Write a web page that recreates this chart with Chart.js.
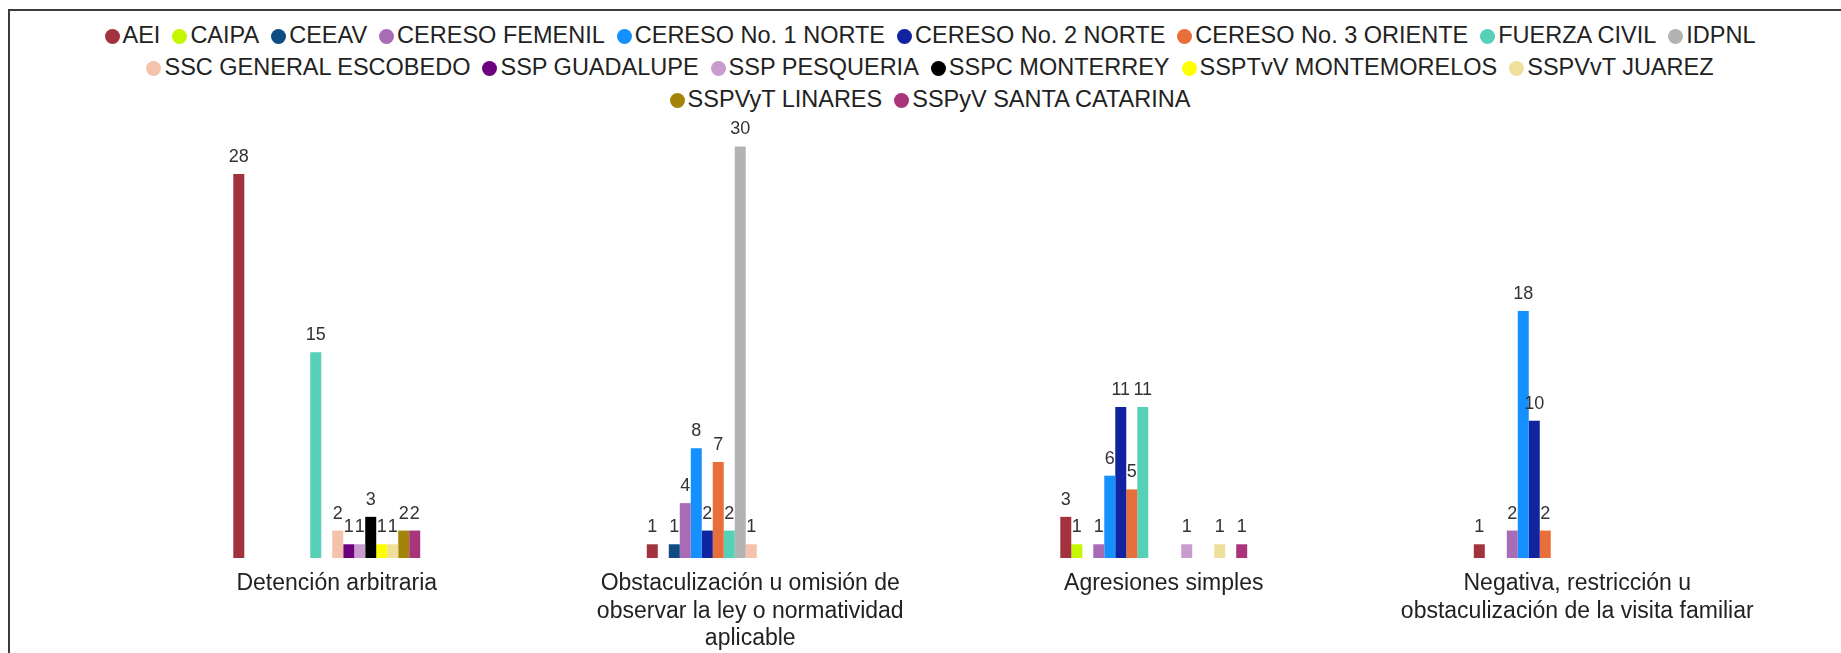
<!DOCTYPE html>
<html lang="es">
<head>
<meta charset="utf-8">
<title>Quejas por autoridad</title>
<script src="https://cdn.jsdelivr.net/npm/chart.js@4.4.1/dist/chart.umd.min.js"></script>
<style>
  html, body { margin: 0; padding: 0; background: #fff; overflow: hidden; }
  #wrap { position: relative; width: 1841px; height: 653px; font-family: "Liberation Sans", Arial, sans-serif; }
  #frame { position: absolute; left: 8px; top: 9px; right: -10px; bottom: -10px;
           border-top: 2px solid #3c3c3c; border-left: 2px solid #3c3c3c; }
  #grafica { position: absolute; left: 0; top: 0; }
  #leyenda { position: absolute; left: 80px; top: 19px; width: 1700px; text-align: center;
             font-size: 23.5px; line-height: 32px; color: #222; }
  #leyenda span.item { display: inline-block; white-space: nowrap; margin: 0 6px; }
  #leyenda span.dot { display: inline-block; width: 15px; height: 15px; border-radius: 50%;
                      margin-right: 3px; vertical-align: -1px; }
</style>
</head>
<body>
<div id="wrap">
  <div id="frame"></div>
  <div id="leyenda"></div>
  <canvas id="grafica" width="1841" height="653"></canvas>
</div>
<script>
const categorias = [
  "Detención arbitraria",
  ["Obstaculización u omisión de", "observar la ley o normatividad", "aplicable"],
  "Agresiones simples",
  ["Negativa, restricción u", "obstaculización de la visita familiar"]
];

const autoridades = [
  "AEI", "CAIPA", "CEEAV", "CERESO FEMENIL", "CERESO No. 1 NORTE", "CERESO No. 2 NORTE",
  "CERESO No. 3 ORIENTE", "FUERZA CIVIL", "IDPNL", "SSC GENERAL ESCOBEDO", "SSP GUADALUPE",
  "SSP PESQUERIA", "SSPC MONTERREY", "SSPTvV MONTEMORELOS", "SSPVvT JUAREZ",
  "SSPVyT LINARES", "SSPyV SANTA CATARINA"
];

const colores = [
  "#a2333e", "#c4f700", "#0f4c81", "#a86bb6", "#1590ff", "#11239e",
  "#e86f3a", "#56d0b6", "#b3b3b3", "#f5c2ab", "#6c007f",
  "#c99bcf", "#000000", "#ffff00", "#f0df9b",
  "#a3830a", "#a9347a"
];

// un arreglo por autoridad, en el orden de las categorías
const aei         = [28, 1, 3, 1];
const caipa       = [0, 0, 1, 0];
const ceeav       = [0, 1, 0, 0];
const cerFemenil  = [0, 4, 1, 2];
const cer1Norte   = [0, 8, 6, 18];
const cer2Norte   = [0, 2, 11, 10];
const cer3Oriente = [0, 7, 5, 2];
const fuerzaCivil = [15, 2, 11, 0];
const idpnl       = [0, 30, 0, 0];
const sscEscobedo = [2, 1, 0, 0];
const sspGuadalupe = [1, 0, 0, 0];
const sspPesqueria = [1, 0, 1, 0];
const sspcMonterrey = [3, 0, 0, 0];
const ssptvvMontemorelos = [1, 0, 0, 0];
const sspvvtJuarez = [1, 0, 1, 0];
const sspvytLinares = [2, 0, 0, 0];
const sspyvSantaCatarina = [2, 0, 1, 0];

const valores = [
  aei, caipa, ceeav, cerFemenil, cer1Norte, cer2Norte, cer3Oriente, fuerzaCivil, idpnl,
  sscEscobedo, sspGuadalupe, sspPesqueria, sspcMonterrey, ssptvvMontemorelos,
  sspvvtJuarez, sspvytLinares, sspyvSantaCatarina
];

const datasets = autoridades.map((nombre, i) => ({
  label: nombre,
  data: valores[i],
  backgroundColor: colores[i],
  borderWidth: 0,
  categoryPercentage: 0.452,
  barPercentage: 1.0
}));

// etiquetas con el valor encima de cada barra
const etiquetasValor = {
  id: "etiquetasValor",
  afterDatasetsDraw(chart) {
    const ctx = chart.ctx;
    ctx.save();
    ctx.font = "18px 'Liberation Sans', Arial, sans-serif";
    ctx.fillStyle = "#333";
    ctx.textAlign = "center";
    ctx.textBaseline = "alphabetic";
    chart.data.datasets.forEach((ds, i) => {
      chart.getDatasetMeta(i).data.forEach((bar, j) => {
        const v = ds.data[j];
        if (!v) return;
        ctx.fillText(String(v), bar.x, bar.y - 12);
      });
    });
    ctx.restore();
  }
};

const chart = new Chart(document.getElementById("grafica"), {
  type: "bar",
  data: { labels: categorias, datasets: datasets },
  options: {
    responsive: false,
    animation: false,
    devicePixelRatio: 1,
    layout: { padding: { left: 120, right: 67, top: 119, bottom: 0 } },
    plugins: {
      legend: { display: false },
      tooltip: { enabled: false }
    },
    scales: {
      x: {
        grid: { display: false, drawTicks: false },
        border: { display: false },
        ticks: {
          color: "#222",
          padding: 12,
          labelOffset: 10,
          maxRotation: 0,
          autoSkip: false,
          font: { family: "'Liberation Sans', Arial, sans-serif", size: 23 }
        },
        afterFit(scale) { scale.height = 95; }
      },
      y: {
        display: false,
        min: 0,
        max: 32
      }
    }
  },
  plugins: [etiquetasValor]
});

// leyenda en HTML a partir de los datasets del gráfico
const leyenda = document.getElementById("leyenda");
chart.data.datasets.forEach(ds => {
  const item = document.createElement("span");
  item.className = "item";
  const dot = document.createElement("span");
  dot.className = "dot";
  dot.style.background = ds.backgroundColor;
  item.appendChild(dot);
  item.appendChild(document.createTextNode(ds.label));
  leyenda.appendChild(item);
});
</script>
</body>
</html>
